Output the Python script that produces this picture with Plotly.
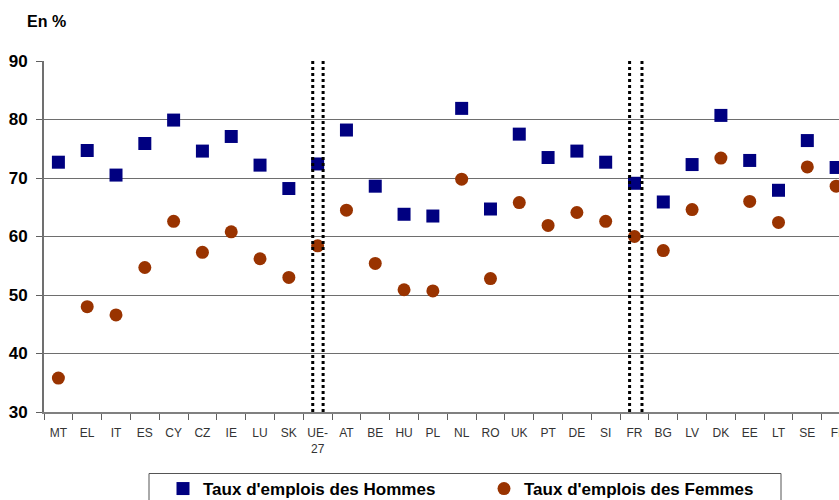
import plotly.graph_objects as go

countries = ["MT", "EL", "IT", "ES", "CY", "CZ", "IE", "LU", "SK", "UE-<br>27",
             "AT", "BE", "HU", "PL", "NL", "RO", "UK", "PT", "DE", "SI",
             "FR", "BG", "LV", "DK", "EE", "LT", "SE", "FI"]
hommes = [72.7, 74.7, 70.5, 75.9, 79.9, 74.6, 77.1, 72.2, 68.2, 72.4,
          78.2, 68.6, 63.8, 63.5, 81.9, 64.7, 77.5, 73.5, 74.6, 72.7,
          69.1, 65.9, 72.3, 80.7, 73.0, 67.9, 76.4, 71.8]
femmes = [35.8, 48.0, 46.6, 54.7, 62.6, 57.3, 60.8, 56.2, 53.0, 58.4,
          64.5, 55.4, 50.9, 50.7, 69.8, 52.8, 65.8, 61.9, 64.1, 62.6,
          60.0, 57.6, 64.6, 73.4, 66.0, 62.4, 71.9, 68.6]
y_ticks = [30, 40, 50, 60, 70, 80, 90]
# category indices where dotted separators frame a highlighted country
separators = [(8.83, 9.19), (19.83, 20.26)]

FONT = "Arial, 'Liberation Sans', sans-serif"
W, H = 839, 500
ML, MT_, MB = 44, 61, 88
PW, PH = W - ML, H - MT_ - MB

fig = go.Figure()
fig.add_trace(go.Scatter(
    x=list(range(len(countries))), y=hommes, mode="markers",
    name="Taux d'emplois des Hommes",
    marker=dict(symbol="square", size=13, color="#000080"),
))
fig.add_trace(go.Scatter(
    x=list(range(len(countries))), y=femmes, mode="markers",
    name="Taux d'emplois des Femmes",
    marker=dict(symbol="circle", size=13, color="#993300"),
))

shapes = []
for a, b in separators:
    shapes.append(dict(type="rect", xref="x", yref="y", x0=a - 0.07, x1=b + 0.07,
                       y0=30, y1=90, fillcolor="white", line=dict(width=0), layer="below"))
    for xv in (a, b):
        shapes.append(dict(type="line", xref="x", yref="y", x0=xv, x1=xv, y0=30, y1=90,
                           line=dict(color="black", width=3, dash="dot"), layer="above"))

def px2paper_x(px):
    return (px - ML) / PW

def px2paper_y(py):
    return (H - MB - py) / PH

# legend frame
shapes.append(dict(type="rect", xref="paper", yref="paper",
                   x0=px2paper_x(149), x1=px2paper_x(781),
                   y0=px2paper_y(530), y1=px2paper_y(473.5),
                   line=dict(color="#555555", width=1), fillcolor="white", layer="below"))

fig.update_layout(
    width=W, height=H,
    margin=dict(l=ML, r=0, t=MT_, b=MB, autoexpand=False),
    paper_bgcolor="white", plot_bgcolor="white",
    font=dict(family=FONT, color="#000000"),
    shapes=shapes,
    showlegend=True,
    legend=dict(
        orientation="h", x=px2paper_x(163), xanchor="left",
        y=px2paper_y(471), yanchor="top",
        bgcolor="rgba(0,0,0,0)", borderwidth=0,
        font=dict(family=FONT, size=17, color="#000000", weight="bold"),
        entrywidth=276, entrywidthmode="pixels",
    ),
    annotations=[dict(text="<b>En %</b>", xref="paper", yref="paper",
                      x=px2paper_x(25), y=px2paper_y(22), xanchor="left", yanchor="middle",
                      showarrow=False, font=dict(family=FONT, size=16, color="#000000"))],
)

fig.update_xaxes(
    type="linear", range=[-0.5, 27.1],
    tickmode="array", tickvals=list(range(len(countries))), ticktext=countries,
    ticks="", showgrid=False, zeroline=False,
    showline=True, linecolor="#808080", linewidth=2,
    tickfont=dict(family=FONT, size=12, color="#333333"),
    ticklabelstandoff=9, ticklabeloverflow="allow",
    minor=dict(tickmode="array", tickvals=[i - 0.5 for i in range(len(countries) + 1)],
               ticks="outside", ticklen=6, tickcolor="#606060", tickwidth=1, showgrid=False),
)
fig.update_yaxes(
    range=[30, 90], tickmode="array", tickvals=y_ticks,
    ticks="outside", ticklen=6, tickcolor="#606060",
    showgrid=True, gridcolor="#6e6e6e", gridwidth=1, zeroline=False,
    showline=True, linecolor="#707070", linewidth=2,
    tickfont=dict(family=FONT, size=17, color="#000000", weight="bold"),
    ticklabelstandoff=5,
)

fig.write_html("out.html", config={"displayModeBar": False},
               post_script="document.body.style.margin='0';document.body.style.overflow='hidden';")
